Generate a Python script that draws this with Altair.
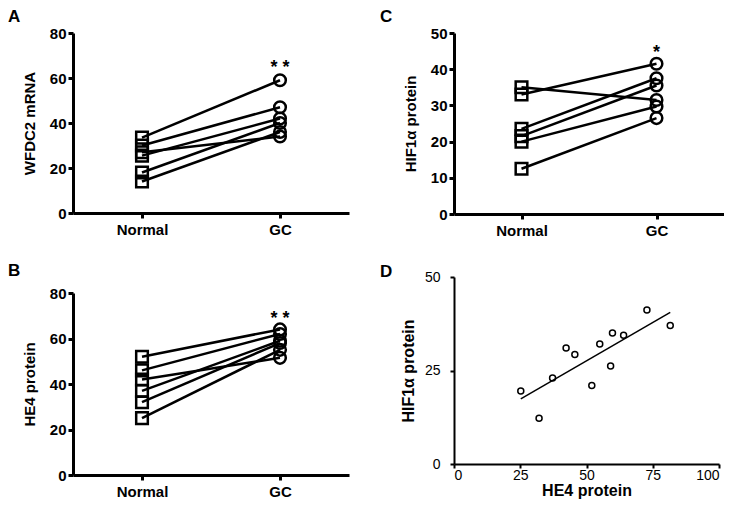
import altair as alt
import pandas as pd

FONT = "Liberation Sans"
groups = ["Normal", "GC"]

# Panel A: WFDC2 mRNA (paired)
a_normal = [33.5, 30, 27, 25.5, 18, 14]
a_gc = [59, 47, 34, 42, 40, 36]
# Panel B: HE4 protein (paired)
b_normal = [52, 46, 42, 37, 32, 25]
b_gc = [64, 62, 51.5, 59, 58, 55]
# Panel C: HIF1a protein (paired)
c_normal = [35, 33, 23.5, 21.5, 20, 12.5]
c_gc = [31.5, 41.5, 37.5, 35.5, 29.7, 26.5]
# Panel D: scatter HE4 vs HIF1a
d_he4 = [25.2, 32.1, 37.2, 42.3, 45.6, 52.0, 55.0, 59.1, 59.8, 64.0, 72.8, 81.6]
d_hif = [19.5, 12.2, 23.0, 31.0, 29.3, 21.0, 32.1, 26.2, 35.0, 34.4, 41.2, 37.0]


def letter_mark(letter, lx, ly):
    return alt.Chart(pd.DataFrame({"t": [letter]})).mark_text(
        font=FONT, fontSize=17, fontWeight="bold", align="left", baseline="top", color="black"
    ).encode(x=alt.value(lx), y=alt.value(ly), text="t:N")


def paired_panel(normal, gc, ytitle, ymax, ystep, star, star_y, letter, lx, ly, w, h):
    rows = []
    for i, (n, g) in enumerate(zip(normal, gc)):
        rows.append({"pair": i, "group": "Normal", "value": n})
        rows.append({"pair": i, "group": "GC", "value": g})
    df = pd.DataFrame(rows)
    x = alt.X("group:N", sort=groups,
              scale=alt.Scale(type="point", padding=0.5, domain=groups),
              axis=alt.Axis(title=None, labelAngle=0, labelPadding=4))
    y = alt.Y("value:Q", scale=alt.Scale(domain=[0, ymax], nice=False, zero=True),
              axis=alt.Axis(values=list(range(0, ymax + 1, ystep)), title=ytitle,
                            grid=False, titlePadding=12, labelPadding=2))
    base = alt.Chart(df)
    lines = base.mark_line(color="black", strokeWidth=2.5).encode(x=x, y=y, detail="pair:N")
    pts = base.mark_point(filled=False, color="black", strokeWidth=2.5, size=135, opacity=1).encode(
        x=x, y=y,
        shape=alt.Shape("group:N", scale=alt.Scale(domain=groups, range=["square", "circle"]), legend=None))
    sdf = pd.DataFrame({"group": ["GC"], "value": [star_y], "t": [star]})
    stars = alt.Chart(sdf).mark_text(font=FONT, fontSize=18, fontWeight="bold", baseline="alphabetic",
                                     color="black").encode(x=x, y=y, text="t:N")
    return alt.layer(lines, pts, stars, letter_mark(letter, lx, ly)).properties(width=w, height=h)


A = paired_panel(a_normal, a_gc, "WFDC2 mRNA", 80, 20, "* *", 62.1, "A", -65, -24, 276, 180)
B = paired_panel(b_normal, b_gc, "HE4 protein", 80, 20, "* *", 66.4, "B", -65, -30, 276, 182)
C = paired_panel(c_normal, c_gc, "HIF1α protein", 50, 10, "*", 43.0, "C", -74, -24, 270, 181)

ddf = pd.DataFrame({"he4": d_he4, "hif": d_hif})
dx = alt.X("he4:Q", scale=alt.Scale(domain=[0, 100], nice=False),
           axis=alt.Axis(values=[0, 25, 50, 75, 100], title="HE4 protein", grid=False,
                         labelFontWeight="normal", labelFontSize=14, titleFontSize=16,
                         domainWidth=2, tickWidth=2, tickSize=4, labelPadding=0, titlePadding=0))
dy = alt.Y("hif:Q", scale=alt.Scale(domain=[0, 50], nice=False),
           axis=alt.Axis(values=[0, 25, 50], title="HIF1α protein", grid=False,
                         labelFontWeight="normal", labelFontSize=14, titleFontSize=16,
                         domainWidth=2, tickWidth=2, tickSize=4, labelPadding=10, titlePadding=8))
dbase = alt.Chart(ddf)
dpts = dbase.mark_point(filled=False, color="black", strokeWidth=1.5, size=36, opacity=1).encode(x=dx, y=dy)
dline = dbase.transform_regression("he4", "hif").mark_line(color="black", strokeWidth=1.5).encode(x=dx, y=dy)
D = alt.layer(dpts, dline, letter_mark("D", -74, -13)).properties(width=265, height=187)

chart = alt.hconcat(
    alt.vconcat(A, B, spacing=25),
    alt.vconcat(C, D, spacing=25),
    spacing=31,
).properties(padding=0).configure_view(stroke=None).configure_axis(
    labelFont=FONT, titleFont=FONT, labelFontSize=15, titleFontSize=15,
    labelFontWeight="bold", titleFontWeight="bold", labelColor="black", titleColor="black",
    domainColor="black", tickColor="black", domainWidth=3, tickWidth=3, tickSize=5,
)

chart.save("out.html", embed_options={"renderer": "svg", "actions": False})
